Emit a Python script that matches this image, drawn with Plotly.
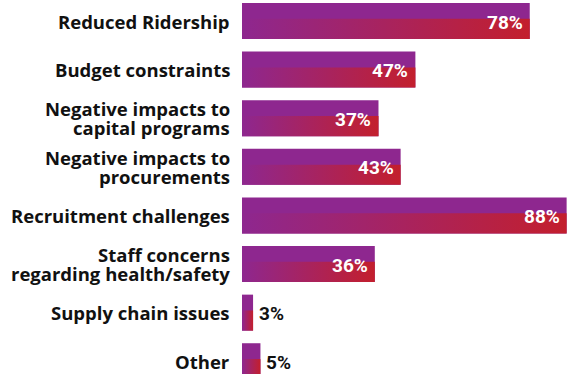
import plotly.graph_objects as go

# Survey responses: share of agencies reporting each impact
categories = [
    "Reduced Ridership",
    "Budget constraints",
    "Negative impacts to\ncapital programs",
    "Negative impacts to\nprocurements",
    "Recruitment challenges",
    "Staff concerns\nregarding health/safety",
    "Supply chain issues",
    "Other",
]
values = [78, 47, 37, 43, 88, 36, 3, 5]

PURPLE = "#8E278F"
RED = "#C31F2D"
BAR_W = 0.74        # bar thickness in category units
TOP_SHARE = 0.44    # solid purple band on the upper part of each bar
LINE_PX = 18.5      # line pitch for two-line category labels
INSIDE_MIN = 10     # values below this get their label outside the bar
X_MAX = 88.1

LABEL_FONT = dict(family="'Open Sans', Lato, sans-serif", size=18.5, color="#111111", weight=700)
VALUE_FONT = dict(family="Roboto, Arial, sans-serif", size=19, weight=700)

idx = list(range(len(values)))

fig = go.Figure()

# Solid purple bars
fig.add_trace(go.Bar(
    x=values, y=idx, orientation="h", width=BAR_W,
    marker=dict(color=PURPLE, line=dict(width=0)),
    hoverinfo="skip", showlegend=False,
))

# Purple-to-red gradient band across the lower part of each bar
for i, v in enumerate(values):
    y0 = i - BAR_W / 2 + TOP_SHARE * BAR_W
    y1 = i + BAR_W / 2
    fig.add_trace(go.Scatter(
        x=[0, v, v, 0, 0], y=[y0, y0, y1, y1, y0],
        mode="none", fill="toself",
        fillgradient=dict(type="horizontal", colorscale=[[0, PURPLE], [1, RED]]),
        hoverinfo="skip", showlegend=False,
    ))

annotations = []

# Category labels, right-aligned left of the bars
for i, label in enumerate(categories):
    lines = label.split("\n")
    n = len(lines)
    for j, line in enumerate(lines):
        annotations.append(dict(
            x=0, y=i, xref="x", yref="y", text=line, showarrow=False,
            xanchor="right", yanchor="middle", align="right",
            xshift=-10, yshift=((n - 1) / 2 - j) * LINE_PX,
            font=LABEL_FONT,
        ))

# Value labels
for i, v in enumerate(values):
    inside = v >= INSIDE_MIN
    annotations.append(dict(
        x=v, y=i, xref="x", yref="y", text=f"{v}%", showarrow=False,
        xanchor="right" if inside else "left", yanchor="middle",
        xshift=-5 if inside else 4, yshift=-1,
        font=dict(VALUE_FONT, color="#FFFFFF" if inside else "#111111"),
    ))

fig.update_layout(
    width=567, height=374,
    margin=dict(l=242, r=0, t=0, b=0),
    paper_bgcolor="#FFFFFF", plot_bgcolor="#FFFFFF",
    showlegend=False,
    annotations=annotations,
    xaxis=dict(range=[0, X_MAX], visible=False, fixedrange=True),
    yaxis=dict(range=[7.263, -0.432], visible=False, fixedrange=True),
)

fig.write_html("out.html", config={"displayModeBar": False})
